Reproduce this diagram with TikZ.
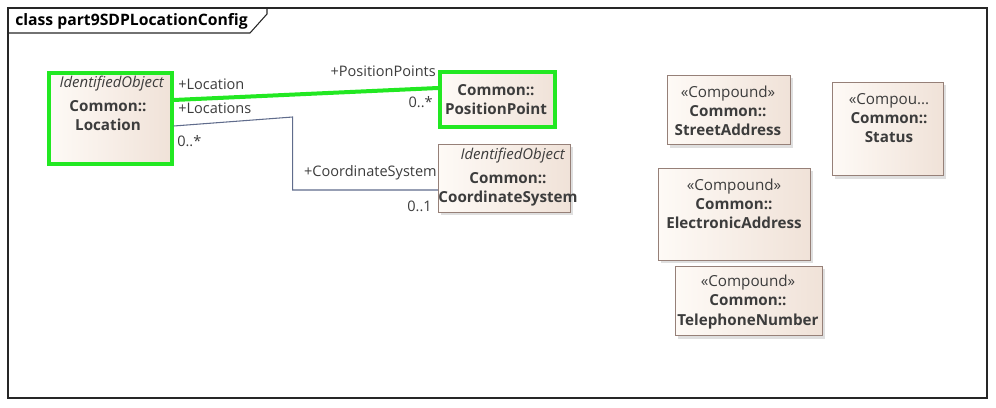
\documentclass[tikz,border=0pt]{standalone}
\usepackage{fontspec}
\setmainfont{Open Sans}
\usetikzlibrary{positioning,calc,shadows}

\definecolor{umlgreen}{RGB}{34,232,34}
\definecolor{umlline}{RGB}{96,108,140}
\definecolor{umlborder}{RGB}{150,128,120}
\definecolor{umlfilla}{RGB}{254,250,246}
\definecolor{umlfillb}{RGB}{240,226,216}
\definecolor{umltext}{RGB}{60,60,60}

\tikzset{
  classbox/.style={draw=umlborder, line width=0.8pt, anchor=north west,
    left color=umlfilla, right color=umlfillb,
    drop shadow={shadow xshift=2pt, shadow yshift=-2pt, opacity=0.25}},
  selbox/.style={classbox, draw=umlgreen, line width=3pt},
  classtext/.style={align=center, inner sep=0pt, text=umltext,
    font=\fontsize{11.4}{14.3}\selectfont},
  stereo/.style={inner sep=0pt, text=umltext, font=\fontsize{11.2}{14.3}\itshape},
  rolelabel/.style={inner sep=0pt, text=umltext, font=\fontsize{10.9}{12}\selectfont}
}

\begin{document}
\begin{tikzpicture}[x=0.75pt,y=-0.75pt]
\useasboundingbox (0,0) rectangle (996,407);

% frame
\draw[black!85, line width=0.8pt] (8,8) rectangle (987,398);
\draw[black!85, line width=0.8pt] (8,33) -- (250,33) -- (267,14) -- (267,8);
\node(title) [anchor=west, inner sep=0pt, font=\fontsize{11.8}{13}\bfseries] at (15,21) {class part9SDPLocationConfig};

% classes
\node(loc) [selbox, minimum width=92pt, minimum height=68pt] at (47,71) {};
\node(pp) [selbox, minimum width=86pt, minimum height=41pt] at (438,70) {};
\node(cs) [classbox, minimum width=99pt, minimum height=51pt] at (438,144) {};
\node(sa) [classbox, minimum width=92pt, minimum height=52pt] at (667,75) {};
\node(st) [classbox, minimum width=83pt, minimum height=70pt] at (832,82) {};
\node(ea) [classbox, minimum width=114pt, minimum height=69pt] at (658,168) {};
\node(tn) [classbox, minimum width=110pt, minimum height=52pt] at (675,266) {};

\node [stereo, anchor=east] at (164,84) {IdentifiedObject};
\node [classtext] at (108,116) {\textbf{Common::}\\\textbf{Location}};
\node [classtext] at (496,100) {\textbf{Common::}\\\textbf{PositionPoint}};
\node [stereo, anchor=east] at (565,156) {IdentifiedObject};
\node [classtext] at (508,189) {\textbf{Common::}\\\textbf{CoordinateSystem}};
\node [classtext] at (728,111) {«Compound»\\\textbf{Common::}\\\textbf{StreetAddress}};
\node [classtext] at (889,118) {«Compou...\\\textbf{Common::}\\\textbf{Status}};
\node [classtext] at (734,204) {«Compound»\\\textbf{Common::}\\\textbf{ElectronicAddress}};
\node [classtext] at (748,302) {«Compound»\\\textbf{Common::}\\\textbf{TelephoneNumber}};

% associations
\draw[umlgreen, line width=3pt] (loc.north east) ++(0,29) -- ($(pp.north west)+(0,18)$);
\draw[umlline, line width=0.8pt] (loc.north east) ++(0,55) -- ++(119,-9) |- ($(cs.north west)+(0,46)$);

\node [rolelabel, anchor=west] at (178,84) {+Location};
\node [rolelabel, anchor=east] at (436,71) {+PositionPoints};
\node [rolelabel, anchor=east] at (433,102) {0..*};
\node [rolelabel, anchor=west] at (178,108) {+Locations};
\node [rolelabel, anchor=west] at (177,141) {0..*};
\node [rolelabel, anchor=east] at (437,173) {+CoordinateSystem};
\node [rolelabel, anchor=east] at (432,206) {0..1};
\end{tikzpicture}
\end{document}
